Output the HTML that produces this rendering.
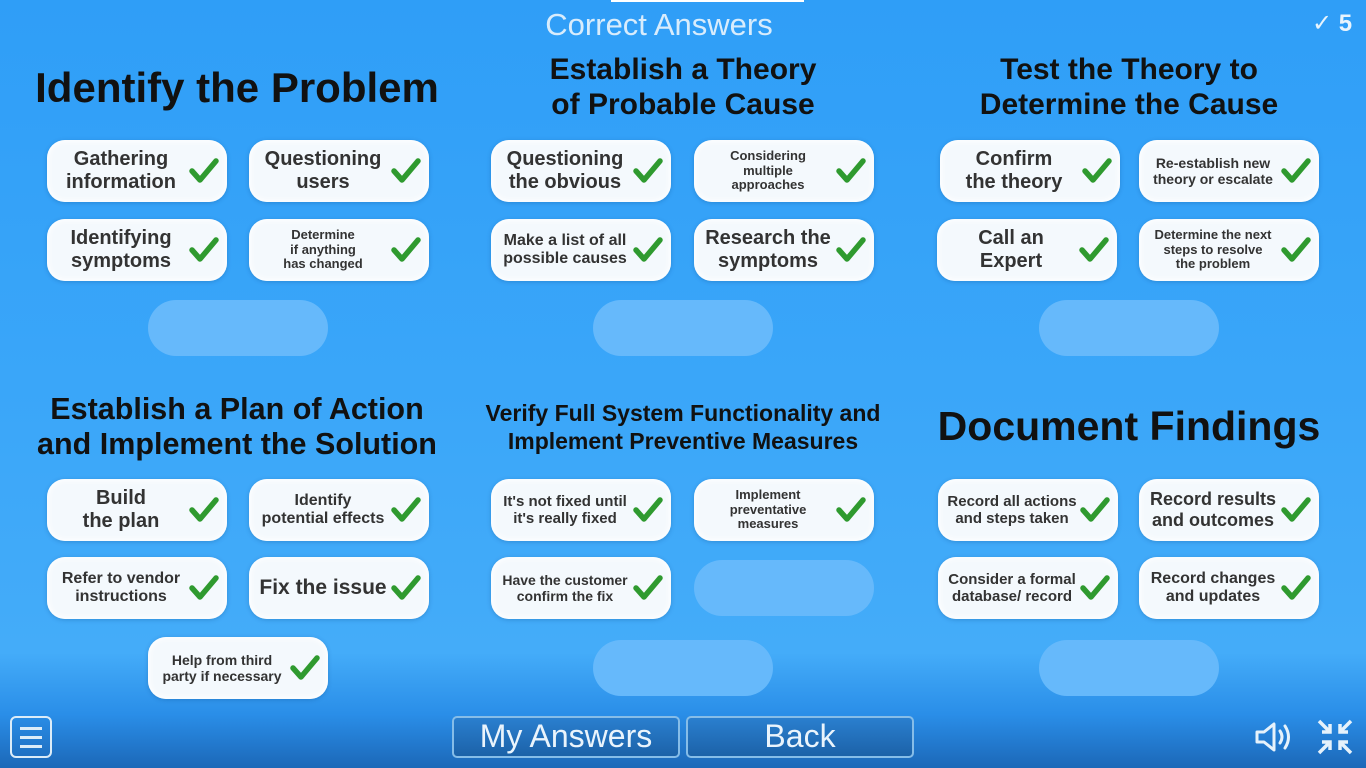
<!DOCTYPE html>
<html><head><meta charset="utf-8"><style>
*{margin:0;padding:0;box-sizing:border-box}
body{width:1366px;height:768px;overflow:hidden;position:relative;font-family:"Liberation Sans","DejaVu Sans",sans-serif;background:linear-gradient(180deg,#2f9ef7 0%,#3aa6f9 50%,#44acf9 85%,#2a8ee8 93%,#1c68b8 100%)}
.t{position:absolute;text-align:center;font-weight:bold;color:#111;line-height:1.15}
.c{position:absolute;width:180px;height:62px;background:#f4f9fd;border-radius:18px;box-shadow:0 0 6px 2px rgba(255,255,255,.8) inset,0 1px 4px rgba(0,60,120,.25);}
.c span{position:absolute;left:6px;right:38px;top:0;bottom:0;display:flex;align-items:center;justify-content:center;text-align:center;font-weight:bold;color:#333;line-height:1.15}
.c svg{position:absolute;right:8px;top:17px}
.p{position:absolute;width:180px;height:56px;border-radius:28px;background:#66b9fb}
.b{position:absolute;top:716px;height:42px;border:2px solid #86bde8;border-radius:5px;background:linear-gradient(#2a7fcf,#1c62a8);color:#eaf4fc;font-size:32px;text-align:center;line-height:36px}
</style></head><body>
<div style="position:absolute;left:611px;top:0;width:193px;height:2px;background:#fff"></div>
<div class="t" style="left:0;width:1318px;top:7px;font-size:31px;color:#d8ecfc;font-weight:normal">Correct Answers</div>
<div class="t" style="left:1312px;top:10px;font-size:24px;color:#e8f4fd">✓ 5</div>

<div class="t" style="left:20px;width:434px;top:64px;font-size:42px">Identify the Problem</div>
<div class="t" style="left:470px;width:426px;top:53px;font-size:30px">Establish a Theory<br>of Probable Cause</div>
<div class="t" style="left:915px;width:428px;top:53px;font-size:30px">Test the Theory to<br>Determine the Cause</div>
<div class="t" style="left:20px;width:434px;top:392px;font-size:30.5px">Establish a Plan of Action<br>and Implement the Solution</div>
<div class="t" style="left:470px;width:426px;top:400px;font-size:23px;line-height:1.2">Verify Full System Functionality and<br>Implement Preventive Measures</div>
<div class="t" style="left:915px;width:428px;top:403px;font-size:41px">Document Findings</div>

<div class="p" style="left:148px;top:300px"></div>
<div class="p" style="left:593px;top:300px"></div>
<div class="p" style="left:1039px;top:300px"></div>
<div class="p" style="left:694px;top:560px"></div>
<div class="p" style="left:593px;top:640px"></div>
<div class="p" style="left:1039px;top:640px"></div>

<div id="cards"></div>
<script>
var d=[
[47,140,20,"Gathering information"],[249,140,20,"Questioning users"],
[47,219,20,"Identifying symptoms"],[249,219,13,"Determine<br>if anything<br>has changed"],
[491,140,20,"Questioning the obvious"],[694,140,13,"Considering<br>multiple<br>approaches"],
[491,219,16,"Make a list of all possible causes"],[694,219,20,"Research the symptoms"],
[940,140,20,"Confirm<br>the theory"],[1139,140,14,"Re-establish new theory or escalate"],
[937,219,20,"Call an<br>Expert"],[1139,219,13,"Determine the next<br>steps to resolve<br>the problem"],
[47,479,20,"Build<br>the plan"],[249,479,16,"Identify<br>potential effects"],
[47,557,16,"Refer to vendor instructions"],[249,557,21,"Fix the issue"],
[148,637,14,"Help from third party if necessary"],
[491,479,15,"It's not fixed until it's really fixed"],[694,479,13,"Implement<br>preventative<br>measures"],
[491,557,14,"Have the customer confirm the fix"],
[938,479,15,"Record all actions and steps taken"],[1139,479,18,"Record results and outcomes"],
[938,557,15,"Consider a formal database/ record"],[1139,557,16,"Record changes and updates"]];
var h="";
d.forEach(function(a){h+='<div class="c" style="left:'+a[0]+'px;top:'+a[1]+'px"><span style="font-size:'+a[2]+'px">'+a[3]+'</span><svg width="30" height="28" viewBox="0 0 30 28"><polyline points="3,14 11,23 27,4" fill="none" stroke="#2f9a2f" stroke-width="5.5" stroke-linecap="round" stroke-linejoin="round"/></svg></div>'});
document.getElementById("cards").innerHTML=h;
</script>

<div style="position:absolute;left:10px;top:716px;width:42px;height:42px;border:2px solid #dcecf8;border-radius:6px">
<div style="position:absolute;left:8px;top:9px;width:22px;height:3px;background:#dcecf8;box-shadow:0 9px 0 #dcecf8,0 18px 0 #dcecf8"></div></div>
<div class="b" style="left:452px;width:228px">My Answers</div>
<div class="b" style="left:686px;width:228px">Back</div>
<svg style="position:absolute;left:1254px;top:720px" width="40" height="34" viewBox="0 0 40 34">
<path d="M3,12 H10 L20,4 V30 L10,22 H3 Z" fill="none" stroke="#e6f2fb" stroke-width="3" stroke-linejoin="round"/>
<path d="M26,11 Q30,17 26,23" fill="none" stroke="#e6f2fb" stroke-width="3" stroke-linecap="round"/>
<path d="M31,6 Q38,17 31,28" fill="none" stroke="#e6f2fb" stroke-width="3" stroke-linecap="round"/></svg>
<svg style="position:absolute;left:1316px;top:718px" width="38" height="38" viewBox="0 0 38 38" stroke="#e6f2fb" stroke-width="3.5" fill="none">
<path d="M3,3 L14,14 M14,6 V14 H6"/><path d="M35,3 L24,14 M24,6 V14 H32"/>
<path d="M3,35 L14,24 M14,32 V24 H6"/><path d="M35,35 L24,24 M24,32 V24 H32"/></svg>
</body></html>
